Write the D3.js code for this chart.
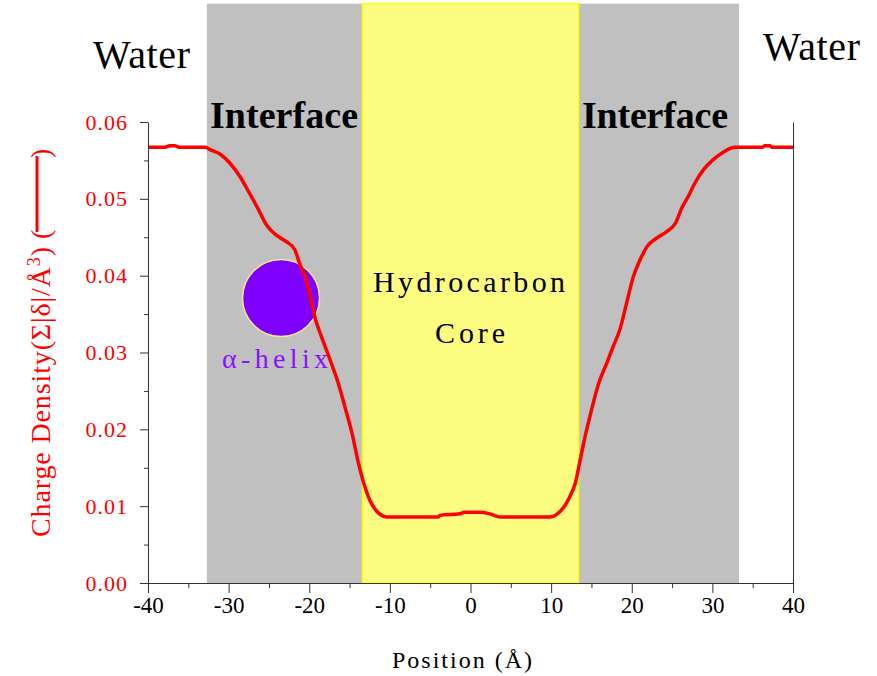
<!DOCTYPE html>
<html>
<head>
<meta charset="utf-8">
<script src="https://cdn.jsdelivr.net/npm/d3@7"></script>
<style>
  html, body { margin: 0; padding: 0; background: #fff; }
  svg { display: block; }
  text { font-family: "Liberation Serif", "Times New Roman", serif; }
</style>
</head>
<body>
<svg id="chart" width="877" height="676"></svg>
<script>
// Charge density profile across the membrane (Å)
const positions = [
  -40, -38, -37.3, -36.7, -36, -32.9, -32.3, -30.9, -29.8, -28.6, -27.4, -26.3,
  -25.3, -24.0, -22.8, -21.8, -21.2, -20.5, -19.9, -19.2, -18.5, -17.4, -16.4,
  -15.6, -14.7, -13.9, -13.3, -12.5, -11.6, -10.4, -8.7, -4.0, -3.8, -1.3, -0.8,
  1.2, 2.4, 3.7, 9.9, 11.1, 11.9, 12.3, 13.0, 13.6, 14.2, 15.0, 15.9, 16.9, 17.7,
  18.5, 19.4, 20.2, 21.0, 21.9, 23.1, 24.3, 25.4, 26.2, 27.0, 27.8, 28.9, 30.1,
  31.4, 32.8, 36.2, 36.5, 37.1, 37.4, 40
];
const density = [
  0.0567, 0.0567, 0.0569, 0.0569, 0.0567, 0.0567, 0.0564, 0.0557, 0.0546, 0.0529,
  0.0507, 0.0486, 0.0466, 0.0452, 0.0444, 0.0434, 0.0416, 0.0399, 0.0373, 0.0342,
  0.0321, 0.0290, 0.0260, 0.0230, 0.0195, 0.0156, 0.0132, 0.0108, 0.0093, 0.0086,
  0.0086, 0.0086, 0.0088, 0.0090, 0.0092, 0.0092, 0.0090, 0.0086, 0.0086, 0.0093,
  0.0104, 0.0112, 0.0130, 0.0160, 0.0190, 0.0225, 0.0260, 0.0286, 0.0308, 0.0329,
  0.0366, 0.0399, 0.0420, 0.0438, 0.0449, 0.0457, 0.0468, 0.0488, 0.0503, 0.0520,
  0.0538, 0.0551, 0.0561, 0.0567, 0.0567, 0.0569, 0.0569, 0.0567, 0.0567
];

// Membrane regions (position ranges, Å)
const interfaceRegions = [[-32.7, -13.4], [13.4, 33.3]];
const coreRegion = [-13.4, 13.4];
const regionTop = 0.0754;

// α-helix marker (position, density)
const helixCenter = [-23.5, 0.0371];

// Axis ticks
const xTicks = [-40, -30, -20, -10, 0, 10, 20, 30, 40];
const xMinorTicks = [-35, -25, -15, -5, 5, 15, 25, 35];
const yTicks = [0, 0.01, 0.02, 0.03, 0.04, 0.05, 0.06];
const yMinorTicks = [0.005, 0.015, 0.025, 0.035, 0.045, 0.055];

const svg = d3.select("#chart");
const x = d3.scaleLinear().domain([-40, 40]).range([148, 793]);
const y = d3.scaleLinear().domain([0, 0.06]).range([583, 122]);

// Region bands
svg.selectAll("rect.interface")
  .data(interfaceRegions)
  .join("rect")
  .attr("class", "interface")
  .attr("x", d => x(d[0]))
  .attr("y", y(regionTop))
  .attr("width", d => x(d[1]) - x(d[0]))
  .attr("height", y(0) - y(regionTop))
  .attr("fill", "#c0c0c0");

svg.append("rect")
  .attr("x", x(coreRegion[0]))
  .attr("y", y(regionTop))
  .attr("width", x(coreRegion[1]) - x(coreRegion[0]))
  .attr("height", y(0) - y(regionTop))
  .attr("fill", "#fcfc80")
  .attr("stroke", "#ffff00")
  .attr("stroke-width", 1.5);

// α-helix circle
svg.append("circle")
  .attr("cx", x(helixCenter[0]))
  .attr("cy", y(helixCenter[1]))
  .attr("r", 38.5)
  .attr("fill", "#8000ff")
  .attr("stroke", "#f2e88c")
  .attr("stroke-width", 1.5);

// Density curve
const line = d3.line()
  .x((d, i) => x(positions[i]))
  .y(d => y(d))
  .curve(d3.curveMonotoneX);

svg.append("path")
  .datum(density)
  .attr("d", line)
  .attr("fill", "none")
  .attr("stroke", "#ff0000")
  .attr("stroke-width", 3.5)
  .attr("stroke-linejoin", "round");

// Axes
const axisColor = "#333";

const xAxis = svg.append("g")
  .attr("transform", `translate(0,${y(0)})`)
  .call(d3.axisBottom(x).tickValues(xTicks).tickSize(10).tickSizeOuter(0).tickPadding(4)
    .tickFormat(d => String(d)));
xAxis.selectAll(".tick line").attr("stroke", axisColor);
xAxis.select(".domain").attr("stroke", axisColor);
xAxis.selectAll(".tick text")
  .attr("fill", "#000")
  .style("font-size", "23px")
  .style("font-family", "'Liberation Serif', serif");

svg.append("g")
  .attr("transform", `translate(0,${y(0)})`)
  .call(d3.axisBottom(x).tickValues(xMinorTicks).tickSize(5).tickSizeOuter(0).tickFormat(""))
  .call(g => g.select(".domain").remove())
  .selectAll(".tick line").attr("stroke", axisColor);

const yAxis = svg.append("g")
  .attr("transform", `translate(${x(-40)},0)`)
  .call(d3.axisLeft(y).tickValues(yTicks).tickSize(8).tickSizeOuter(0).tickPadding(12)
    .tickFormat(d3.format(".2f")));
yAxis.selectAll(".tick line").attr("stroke", axisColor);
yAxis.select(".domain").attr("stroke", axisColor);
yAxis.selectAll(".tick text")
  .attr("fill", "#ff0000")
  .style("font-size", "22px")
  .style("letter-spacing", "1px")
  .style("font-family", "'Liberation Serif', serif");

svg.append("g")
  .attr("transform", `translate(${x(-40)},0)`)
  .call(d3.axisLeft(y).tickValues(yMinorTicks).tickSize(4).tickSizeOuter(0).tickFormat(""))
  .call(g => g.select(".domain").remove())
  .selectAll(".tick line").attr("stroke", axisColor);

const yRight = svg.append("g")
  .attr("transform", `translate(${x(40)},0)`)
  .call(d3.axisRight(y).tickValues([]).tickSizeOuter(0));
yRight.select(".domain").attr("stroke", axisColor);

// Region labels
function label(txt, px, py, opts) {
  const t = svg.append("text")
    .attr("x", px)
    .attr("y", py)
    .attr("fill", opts.fill || "#000")
    .style("font-size", opts.size + "px")
    .style("font-weight", opts.weight || "normal")
    .text(txt);
  if (opts.len) t.attr("textLength", opts.len);
  if (opts.anchor) t.attr("text-anchor", opts.anchor);
  return t;
}

label("Water", 93, 68, { size: 40, len: 97 });
label("Water", 763, 60, { size: 40, len: 97 });
label("Interface", 210, 128, { size: 38, weight: "bold", len: 148 });
label("Interface", 582, 128, { size: 38, weight: "bold", len: 146 });
label("Hydrocarbon", 373, 292, { size: 30, len: 192 });
label("Core", 435, 343, { size: 30, len: 70 });
label("α-helix", 222, 368, { size: 28, len: 106, fill: "#8a10ff" });

// Axis titles
svg.append("text")
  .attr("x", 392)
  .attr("y", 668)
  .attr("textLength", 140)
  .attr("fill", "#000")
  .style("font-size", "24px")
  .text("Position (Å)");

const yTitle = svg.append("text")
  .attr("transform", "translate(50,537) rotate(-90)")
  .attr("fill", "#ff0000")
  .attr("textLength", 290)
  .style("font-size", "28px");
yTitle.append("tspan").text("Charge Density(Σ|δ|/Å");
yTitle.append("tspan").attr("dy", -10).style("font-size", "18px").text("3");
yTitle.append("tspan").attr("dy", 10).text(")");

svg.append("text")
  .attr("transform", "translate(50,239) rotate(-90)")
  .attr("fill", "#ff0000")
  .style("font-size", "28px")
  .text("(");
svg.append("line")
  .attr("x1", 37).attr("x2", 37)
  .attr("y1", 232).attr("y2", 156)
  .attr("stroke", "#ff0000")
  .attr("stroke-width", 3);
svg.append("text")
  .attr("transform", "translate(50,158) rotate(-90)")
  .attr("fill", "#ff0000")
  .style("font-size", "28px")
  .text(")");
</script>
</body>
</html>
